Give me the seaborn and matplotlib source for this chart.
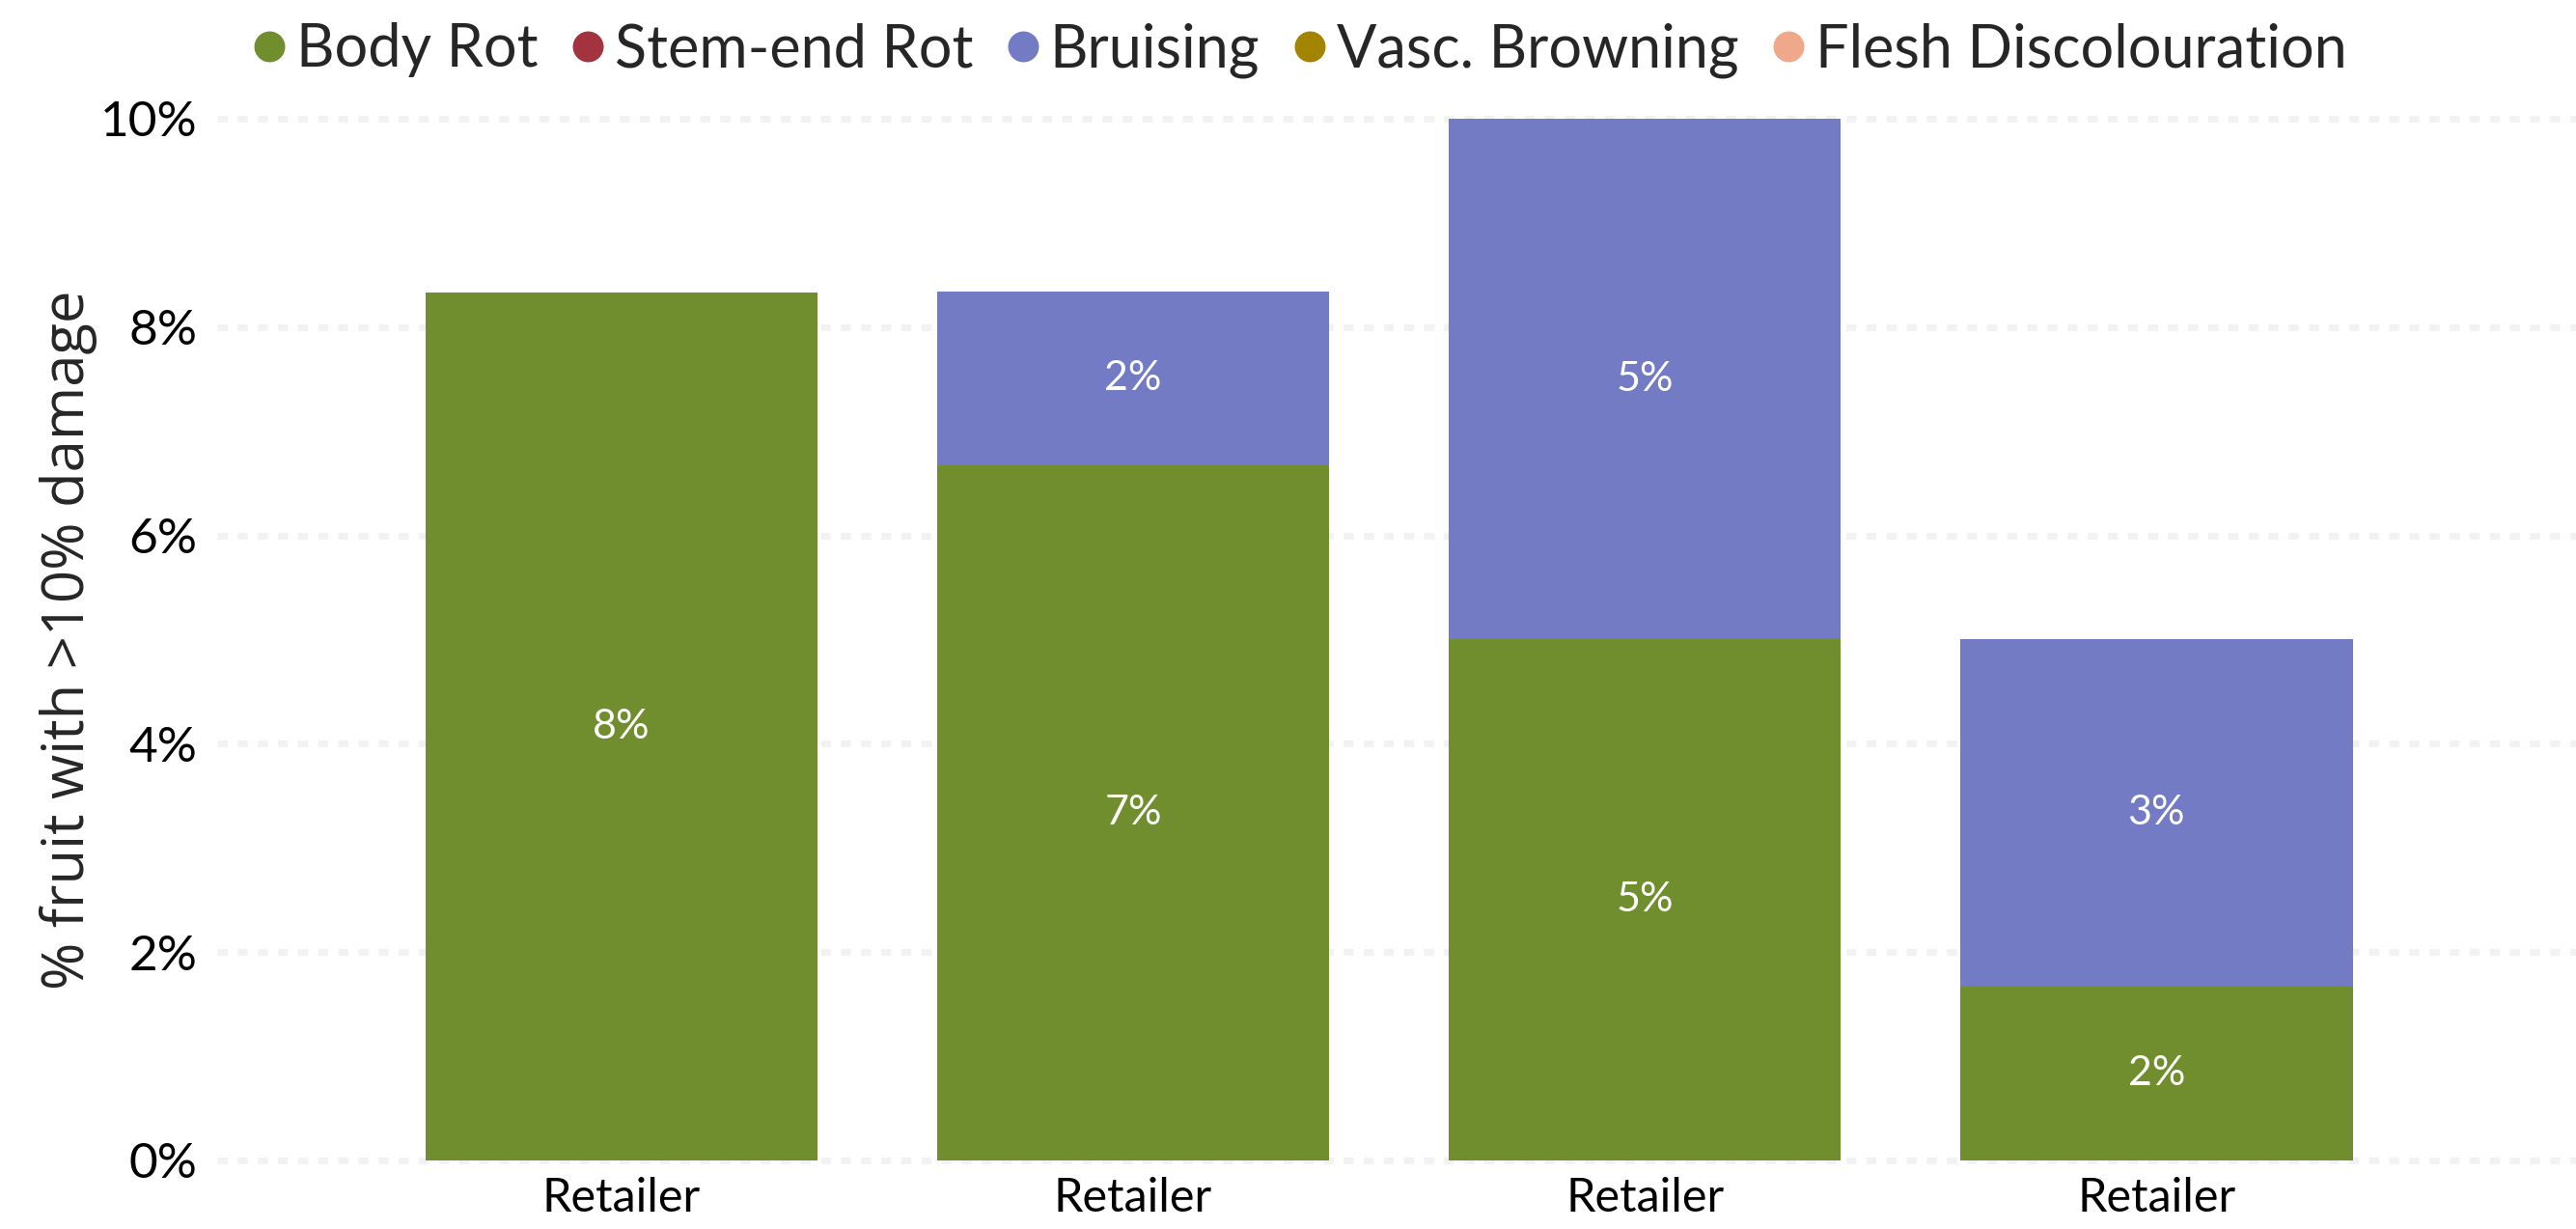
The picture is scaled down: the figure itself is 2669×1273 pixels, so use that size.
import pandas as pd
import numpy as np
import matplotlib
matplotlib.use("Agg")
import matplotlib.pyplot as plt
from matplotlib.lines import Line2D
import seaborn as sns

# ---------------------------------------------------------------
# data (% fruit with >10% damage, per retailer sample)
# ---------------------------------------------------------------
retailer_ids = ["R1", "R2", "R3", "R4"]
tick_labels = ["Retailer", "Retailer", "Retailer", "Retailer"]

defects = ["Body Rot", "Stem-end Rot", "Bruising", "Vasc. Browning", "Flesh Discolouration"]
body_rot = [8.33, 6.67, 5.0, 1.67]
stem_end_rot = [0.0, 0.0, 0.0, 0.0]
bruising = [0.0, 1.67, 5.0, 3.33]
vasc_browning = [0.0, 0.0, 0.0, 0.0]
flesh_discol = [0.0, 0.0, 0.0, 0.0]

colors = ["#718E2E", "#A3343F", "#727BC4", "#A38400", "#F0A88A"]
y_ticks = [0, 2, 4, 6, 8, 10]

df = pd.DataFrame({
    "retailer": retailer_ids,
    "Body Rot": body_rot,
    "Stem-end Rot": stem_end_rot,
    "Bruising": bruising,
    "Vasc. Browning": vasc_browning,
    "Flesh Discolouration": flesh_discol,
})

# cumulative tops for stacking
cum = df[defects].cumsum(axis=1)
bottoms = cum - df[defects]

sns.set_theme(style="white")
plt.rcParams['font.family'] = ['Lato', 'DejaVu Sans']

fig = plt.figure(figsize=(26.69, 12.73), dpi=100)
ax = fig.add_axes([0.0843, 0.0558, 0.9157, 0.8476])

# draw from the top segment down so lower ones cover upper ones
for name, col in reversed(list(zip(defects, colors))):
    plot_df = pd.DataFrame({"retailer": retailer_ids, "top": cum[name]})
    sns.barplot(data=plot_df, x="retailer", y="top", color=col, saturation=1,
                width=0.767, ax=ax, errorbar=None, linewidth=0, zorder=2)

# segment labels
for name in defects:
    for i, v in enumerate(df[name]):
        if v > 0:
            ax.text(i, bottoms[name][i] + v / 2, f"{v:.0f}%", ha="center", va="center",
                    color="white", fontsize=31, zorder=3)

ax.set_xlim(-0.79, 3.82)
ax.set_ylim(0, 10)
ax.set_yticks(y_ticks)
ax.set_yticklabels([f"{t}%" for t in y_ticks])
ax.set_xticks(range(len(tick_labels)))
ax.set_xticklabels(tick_labels)
ax.tick_params(axis="y", labelsize=37, pad=15, length=0, labelcolor="black")
ax.tick_params(axis="x", labelsize=35, pad=12, length=0, labelcolor="black")
ax.set_xlabel("")
ax.set_ylabel("% fruit with >10% damage", fontsize=43, color="#262626",
              family=["Open Sans", "DejaVu Sans"], labelpad=2)

ax.yaxis.grid(True, color="#F2F2F2", linewidth=5, linestyle=(0, (1.5, 1.5)))
for gl in ax.yaxis.get_gridlines():
    gl.set_clip_on(False)
ax.xaxis.grid(False)
ax.set_axisbelow(True)
sns.despine(ax=ax, left=True, bottom=True)

handles = [Line2D([], [], marker="o", linestyle="", markersize=22, color=c) for c in colors]
fig.legend(handles, defects, loc="upper center", bbox_to_anchor=(0.505, 1.025), ncol=5,
           frameon=False, fontsize=44, handletextpad=0.2, handlelength=0.5,
           columnspacing=0.6)

fig.savefig("out.png", dpi=100, facecolor="white")
